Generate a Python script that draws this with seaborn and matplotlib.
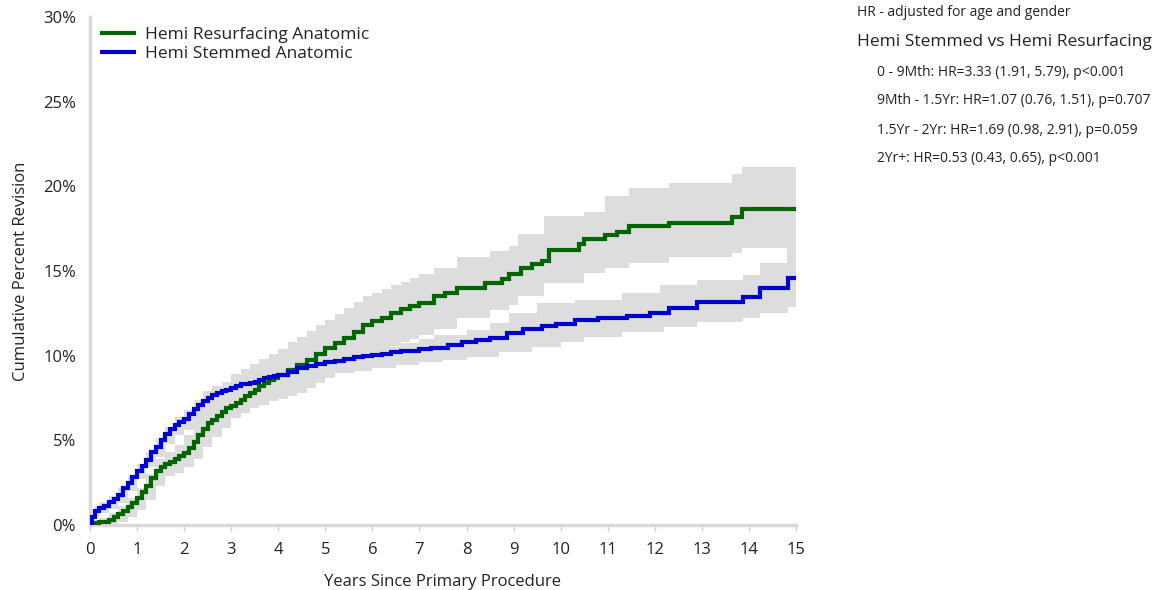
import numpy as np
import pandas as pd
import matplotlib
matplotlib.use("Agg")
import matplotlib.pyplot as plt
import seaborn as sns

# Cumulative percent revision (Kaplan-Meier style step curves)
resurf_t = [0.0, 0.1, 0.2, 0.3, 0.4, 0.5, 0.6, 0.7, 0.8, 0.9, 1.0, 1.1, 1.2, 1.3, 1.4,
            1.5, 1.6, 1.7, 1.8, 1.9, 2.0, 2.1, 2.2, 2.3, 2.4, 2.5, 2.6, 2.7, 2.8, 2.9,
            3.0, 3.1, 3.2, 3.3, 3.4, 3.5, 3.6, 3.7, 3.8, 3.9, 4.0, 4.2, 4.4, 4.6, 4.8,
            5.0, 5.2, 5.4, 5.6, 5.8, 6.0, 6.2, 6.4, 6.6, 6.8, 7.0, 7.3, 7.55, 7.8, 8.4,
            8.75, 8.9, 9.15, 9.4, 9.6, 9.75, 10.4, 10.5, 10.95, 11.2, 11.45, 12.3, 13.65,
            13.85, 15.0]
resurf_cpr = [0.0, 0.1, 0.15, 0.2, 0.3, 0.45, 0.65, 0.85, 1.05, 1.3, 1.6, 1.95, 2.3, 2.8, 3.2,
              3.45, 3.6, 3.75, 3.9, 4.05, 4.25, 4.55, 4.9, 5.3, 5.65, 6.0, 6.2, 6.45, 6.7, 6.9,
              7.05, 7.2, 7.4, 7.6, 7.8, 8.0, 8.2, 8.4, 8.55, 8.7, 8.85, 9.15, 9.45, 9.75, 10.1,
              10.45, 10.75, 11.05, 11.4, 11.8, 12.05, 12.25, 12.5, 12.75, 12.95, 13.1, 13.5, 13.7, 14.0, 14.3,
              14.5, 14.8, 15.2, 15.4, 15.6, 16.25, 16.6, 16.9, 17.1, 17.3, 17.65, 17.85, 18.2,
              18.65, 18.65]

resurf_ci_t = [0.0, 0.2, 0.4, 0.6, 0.8, 1.0, 1.2, 1.4, 1.6, 1.8, 2.0, 2.2, 2.4, 2.6, 2.8,
               3.0, 3.2, 3.4, 3.6, 3.8, 4.0, 4.2, 4.4, 4.6, 4.8, 5.0, 5.2, 5.4, 5.6, 5.8,
               6.0, 6.2, 6.4, 6.6, 6.8, 7.0, 7.3, 7.8, 8.5, 8.9, 9.1, 9.65, 10.5, 10.95,
               11.45, 12.3, 13.65, 13.85, 14.8, 15.0]
resurf_upper = [0.0, 0.4, 0.7, 1.1, 1.6, 2.2, 3.0, 3.9, 4.3, 4.7, 5.3, 6.4, 7.2, 7.8, 8.4,
                8.9, 9.2, 9.5, 9.8, 10.1, 10.4, 10.8, 11.1, 11.45, 11.8, 12.1, 12.45, 12.8, 13.15, 13.5,
                13.7, 13.95, 14.15, 14.35, 14.6, 14.8, 15.2, 15.8, 16.2, 16.5, 17.2, 18.25, 18.5, 19.4,
                19.9, 20.2, 20.7, 21.15, 21.15, 21.15]
resurf_lower = [0.0, 0.0, 0.05, 0.2, 0.5, 0.9, 1.5, 2.3, 2.9, 3.1, 3.4, 3.9, 4.6, 5.2, 5.7,
                6.3, 6.6, 6.9, 7.1, 7.3, 7.45, 7.6, 7.8, 8.1, 8.4, 8.7, 9.0, 9.25, 9.5, 9.75,
                10.0, 10.3, 10.6, 10.8, 11.0, 11.2, 11.6, 12.2, 12.7, 13.0, 13.5, 14.3, 14.9, 15.2,
                15.5, 15.8, 16.05, 16.35, 14.0, 14.0]

stem_t = [0.0, 0.05, 0.1, 0.2, 0.3, 0.4, 0.5, 0.6, 0.7, 0.8, 0.9, 1.0, 1.1, 1.2, 1.3,
          1.4, 1.5, 1.6, 1.7, 1.8, 1.9, 2.0, 2.1, 2.2, 2.3, 2.4, 2.5, 2.6, 2.7, 2.8,
          2.9, 3.0, 3.1, 3.2, 3.3, 3.4, 3.5, 3.6, 3.7, 3.8, 3.9, 4.0, 4.2, 4.4, 4.6,
          4.8, 5.0, 5.2, 5.4, 5.6, 5.8, 6.0, 6.2, 6.4, 6.6, 6.8, 7.0, 7.25, 7.6, 7.9,
          8.2, 8.5, 8.85, 9.2, 9.6, 9.9, 10.3, 10.8, 11.4, 11.9, 12.3, 12.9, 13.88,
          14.23, 14.83, 15.0]
stem_cpr = [0.0, 0.5, 0.8, 1.0, 1.15, 1.35, 1.55, 1.8, 2.2, 2.5, 2.85, 3.2, 3.5, 3.85, 4.3,
            4.6, 5.0, 5.35, 5.65, 5.9, 6.1, 6.25, 6.55, 6.85, 7.1, 7.3, 7.5, 7.65, 7.8, 7.9,
            8.0, 8.1, 8.2, 8.3, 8.35, 8.4, 8.45, 8.55, 8.7, 8.75, 8.8, 8.85, 9.05, 9.25, 9.4,
            9.5, 9.6, 9.7, 9.8, 9.9, 10.0, 10.05, 10.1, 10.2, 10.25, 10.3, 10.4, 10.45, 10.65, 10.8,
            10.9, 11.05, 11.35, 11.55, 11.75, 11.85, 12.1, 12.2, 12.35, 12.5, 12.8, 13.15, 13.45,
            14.0, 14.6, 14.6]

stem_ci_t = [0.0, 0.1, 0.2, 0.4, 0.6, 0.8, 1.0, 1.2, 1.4, 1.6, 1.8, 2.0, 2.2, 2.4, 2.6,
             2.8, 3.0, 3.2, 3.4, 3.6, 3.8, 4.0, 4.2, 4.4, 4.6, 4.8, 5.0, 5.4, 5.8, 6.2,
             6.6, 7.0, 7.3, 8.0, 8.5, 8.9, 9.5, 10.3, 11.3, 12.1, 12.9, 13.88, 14.23, 15.0]
stem_upper = [0.0, 1.1, 1.35, 1.7, 2.2, 2.9, 3.6, 4.3, 5.1, 5.8, 6.4, 6.8, 7.4, 7.9, 8.2,
              8.45, 8.7, 8.85, 9.0, 9.15, 9.3, 9.4, 9.55, 9.7, 9.8, 9.9, 10.0, 10.15, 10.3, 10.5,
              10.75, 11.0, 11.2, 11.5, 11.9, 12.5, 13.1, 13.3, 13.7, 14.2, 14.45, 14.75, 15.5, 15.5]

stem_lo_t = [0.0, 0.1, 0.2, 0.4, 0.6, 0.8, 1.0, 1.2, 1.4, 1.6, 1.8, 2.0, 2.2, 2.4, 2.6,
             2.8, 3.0, 3.2, 3.4, 3.6, 3.8, 4.0, 4.4, 4.8, 5.2, 5.6, 6.0, 6.5, 7.0, 7.5,
             8.0, 8.7, 9.4, 10.0, 10.5, 11.3, 12.2, 12.9, 13.88, 14.23, 14.83, 15.0]
stem_lower = [0.0, 0.5, 0.7, 0.95, 1.3, 2.0, 2.7, 3.4, 4.0, 4.8, 5.3, 5.6, 6.2, 6.7, 7.0,
              7.25, 7.45, 7.65, 7.85, 8.0, 8.15, 8.3, 8.55, 8.75, 8.95, 9.1, 9.25, 9.45, 9.6, 9.75,
              9.9, 10.2, 10.5, 10.8, 11.1, 11.4, 11.7, 12.0, 12.2, 12.5, 12.85, 12.85]

series_names = ["Hemi Resurfacing Anatomic", "Hemi Stemmed Anatomic"]
series_colors = ["#006400", "#0000CD"]

x_ticks = list(range(0, 16))
y_ticks = [0, 5, 10, 15, 20, 25, 30]
y_tick_labels = [f"{v}%" for v in y_ticks]

hr_note = "HR - adjusted for age and gender"
hr_title = "Hemi Stemmed vs Hemi Resurfacing"
hr_rows = [
    "0 - 9Mth: HR=3.33 (1.91, 5.79), p<0.001",
    "9Mth - 1.5Yr: HR=1.07 (0.76, 1.51), p=0.707",
    "1.5Yr - 2Yr: HR=1.69 (0.98, 2.91), p=0.059",
    "2Yr+: HR=0.53 (0.43, 0.65), p<0.001",
]

sns.set_theme(style="white")
plt.rcParams["font.family"] = ["Open Sans", "DejaVu Sans"]

fig = plt.figure(figsize=(11.71, 5.90), dpi=100)
ax = fig.add_axes([90 / 1171, 65 / 590, (796 - 90) / 1171, (525 - 17) / 590])

# Confidence bands
band_color = "#DDDDDD"
ax.fill_between(resurf_ci_t, resurf_lower, resurf_upper, step="post",
                color=band_color, linewidth=0, zorder=1)
upper_s = pd.Series(stem_upper, index=stem_ci_t)
lower_s = pd.Series(stem_lower, index=stem_lo_t)
grid_t = sorted(set(stem_ci_t) | set(stem_lo_t))
ax.fill_between(grid_t,
                upper_s.reindex(grid_t).ffill().values,
                lower_s.reindex(grid_t).ffill().values,
                step="post", color=band_color, linewidth=0, zorder=1)

df = pd.concat([
    pd.DataFrame({"Years": resurf_t, "CPR": resurf_cpr, "Group": series_names[0]}),
    pd.DataFrame({"Years": stem_t, "CPR": stem_cpr, "Group": series_names[1]}),
], ignore_index=True)

sns.lineplot(data=df, x="Years", y="CPR", hue="Group", palette=series_colors,
             hue_order=series_names, estimator=None, drawstyle="steps-post",
             linewidth=3.0, ax=ax, zorder=3, legend=True,
             solid_joinstyle="miter", solid_capstyle="butt")

ax.set_xlim(0, 15)
ax.set_ylim(0, 30)
ax.set_xticks(x_ticks)
ax.set_xticklabels([str(v) for v in x_ticks], fontsize=12, color="#222222")
ax.set_yticks(y_ticks)
ax.set_yticklabels(y_tick_labels, fontsize=12, color="#222222")
ax.tick_params(axis="x", length=4, width=1, color="#D0D0D0", pad=8, bottom=True)
ax.tick_params(axis="y", length=0, pad=10)

ax.set_xlabel("Years Since Primary Procedure", fontsize=12, color="#222222", labelpad=12)
ax.set_ylabel("Cumulative Percent Revision", fontsize=12, color="#222222", labelpad=10)

for side in ["top", "right"]:
    ax.spines[side].set_visible(False)
for side in ["left", "bottom"]:
    ax.spines[side].set_color("#D9D9D9")
    ax.spines[side].set_linewidth(2.5)

leg = ax.legend(loc="upper left", bbox_to_anchor=(-0.003, 1.005), frameon=False,
                fontsize=12.5, handlelength=2.1, handletextpad=0.5,
                labelspacing=0.2, borderaxespad=0.3)
for line in leg.get_lines():
    line.set_linewidth(3.0)
for txt in leg.get_texts():
    txt.set_color("#222222")

fig.text(857 / 1171, 1 - 12 / 590, hr_note, fontsize=10, color="#222222", va="center", ha="left")
fig.text(857 / 1171, 1 - 42 / 590, hr_title, fontsize=12.5, color="#222222", va="center", ha="left")
for y_px, row in zip([72, 100, 130, 158], hr_rows):
    fig.text(877 / 1171, 1 - y_px / 590, row, fontsize=10, color="#222222", va="center", ha="left")

fig.savefig("out.png", dpi=100, facecolor="white")
